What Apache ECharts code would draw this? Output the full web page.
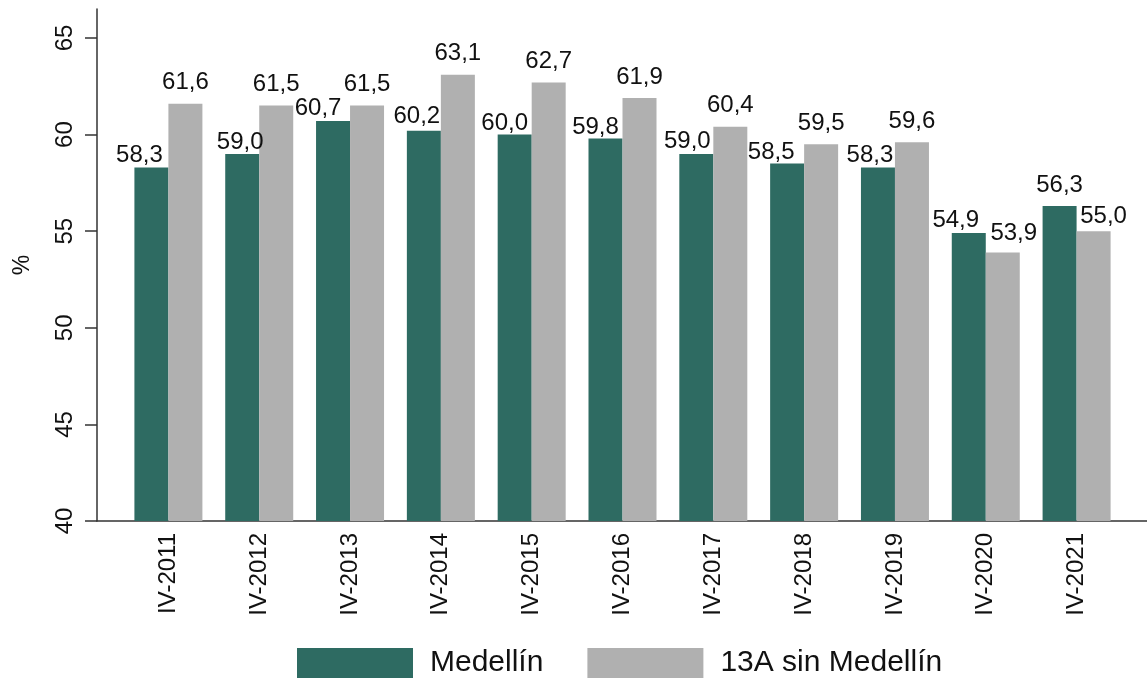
<!DOCTYPE html>
<html>
<head>
<meta charset="utf-8">
<script src="https://cdn.jsdelivr.net/npm/echarts@6/dist/echarts.min.js"></script>
<style>
  html, body { margin: 0; padding: 0; background: #fff; }
  #chart { width: 1147px; height: 680px; }
</style>
</head>
<body>
<div id="chart"></div>
<script>
const categories = ['IV-2011', 'IV-2012', 'IV-2013', 'IV-2014', 'IV-2015', 'IV-2016', 'IV-2017', 'IV-2018', 'IV-2019', 'IV-2020', 'IV-2021']
const medellin = [58.3, 59.0, 60.7, 60.2, 60.0, 59.8, 59.0, 58.5, 58.3, 54.9, 56.3]
const resto13A = [61.6, 61.5, 61.5, 63.1, 62.7, 61.9, 60.4, 59.5, 59.6, 53.9, 55.0]
const yTicks = [40, 45, 50, 55, 60, 65]

// label nudges [dx, dy] so the value labels sit like in the original figure
const medLabelShift = [[-12, 9], [-2, 9], [-15, 8], [-7, 7], [-10, 10], [-10, 10], [-9, 8], [-16, 10], [-8, 9], [-13, 8], [0, 0]]
const restLabelShift = [[0, 0], [0, 0], [0, 0], [0, 0], [0, 0], [0, 0], [0, 0], [0, 0], [0, 0], [11, 2], [10, 6]]

const GREEN = '#2e6b62'
const GRAY = '#b0b0b0'
const INK = '#111'
const FONT = 'Liberation Sans, Arial, sans-serif'

function fmt(v) {
  return v.toFixed(1).replace('.', ',')
}

function buildData(values, shifts) {
  return values.map((v, i) => ({
    value: v,
    label: { offset: shifts[i] }
  }))
}

const barLabel = {
  show: true,
  position: 'top',
  distance: 9,
  color: INK,
  fontSize: 24,
  fontFamily: FONT,
  formatter: p => fmt(p.value)
}

const chart = echarts.init(document.getElementById('chart'), null, { renderer: 'canvas' })

const option = {
  backgroundColor: '#fff',
  animation: false,
  textStyle: { fontFamily: FONT, color: INK },
  grid: [
    { left: 123, right: 25, top: 9, bottom: 159 },
    { left: 97, right: 0, top: 9, bottom: 159 }
  ],
  legend: {
    left: 292,
    top: 643,
    itemWidth: 116,
    itemHeight: 30,
    itemGap: 44,
    icon: 'rect',
    textStyle: { fontSize: 30, color: INK, fontFamily: FONT, padding: [0, 0, 0, 12] },
    data: ['Medellín', '13A sin Medellín']
  },
  xAxis: [
    {
      type: 'category',
      gridIndex: 0,
      data: categories,
      axisLine: { show: false },
      axisTick: { show: false },
      axisLabel: { rotate: 90, margin: 12, fontSize: 24, color: INK, fontFamily: FONT }
    },
    {
      type: 'value',
      gridIndex: 1,
      min: 0,
      max: 1,
      axisLine: { show: true, lineStyle: { color: '#333', width: 1.5 } },
      axisTick: { show: false },
      axisLabel: { show: false },
      splitLine: { show: false }
    }
  ],
  yAxis: [
    {
      type: 'value',
      gridIndex: 0,
      min: 40,
      max: 66.5,
      offset: 26,
      name: '%',
      nameLocation: 'middle',
      nameRotate: 90,
      nameGap: 63,
      nameTextStyle: { fontSize: 23, color: INK, fontFamily: FONT },
      axisLine: { show: true, lineStyle: { color: '#333', width: 1.5 } },
      axisTick: { show: true, length: 12, customValues: yTicks, lineStyle: { color: '#333', width: 1.5 } },
      axisLabel: { rotate: 90, margin: 20, fontSize: 24, color: INK, fontFamily: FONT, customValues: yTicks },
      splitLine: { show: false }
    },
    {
      type: 'value',
      gridIndex: 1,
      min: 40,
      max: 66.5,
      show: false
    }
  ],
  series: [
    {
      name: 'Medellín',
      type: 'bar',
      xAxisIndex: 0,
      yAxisIndex: 0,
      barWidth: 34,
      barGap: '0%',
      itemStyle: { color: GREEN },
      label: barLabel,
      data: buildData(medellin, medLabelShift)
    },
    {
      name: '13A sin Medellín',
      type: 'bar',
      xAxisIndex: 0,
      yAxisIndex: 0,
      barWidth: 34,
      barGap: '0%',
      itemStyle: { color: GRAY },
      label: barLabel,
      data: buildData(resto13A, restLabelShift)
    }
  ]
}

chart.setOption(option)
</script>
</body>
</html>
